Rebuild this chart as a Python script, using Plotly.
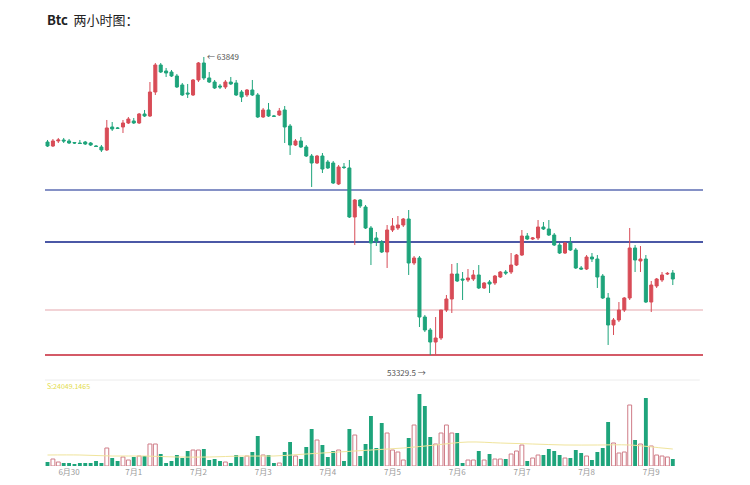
import pandas as pd
import plotly.graph_objects as go

# ---------------- data ----------------
start_time = "2024-06-29 16:00"
n_candles = 117

opens = [60848, 60707, 60884, 60919, 60884, 60831, 60813, 60848, 60813, 60707,
         60672, 60566, 61378, 61343, 61378, 61519, 61590, 61519, 61837, 61766,
         62613, 63567, 63355, 63319, 63178, 62861, 62578, 62508, 63037, 63637,
         63108, 62966, 62825, 62790, 62966, 62931, 62613, 62508, 62684, 62508,
         61731, 61978, 61766, 61802, 61978, 61413, 60742, 60884, 60672, 60354,
         60107, 60354, 60142, 60107, 59366, 59966, 59931, 58201, 58801, 58554,
         57813, 57460, 57318, 56965, 57742, 57813, 57918, 58130, 56577, 56754,
         54671, 54212, 53788, 53930, 54918, 55306, 56189, 56012, 55977, 56012,
         56154, 55695, 55906, 55871, 56083, 56259, 56259, 56506, 56859, 57530,
         57424, 57460, 57848, 57777, 57565, 57212, 56930, 57283, 57036, 56401,
         56365, 56789, 56718, 56118, 55342, 54389, 54565, 54918, 55342, 57107,
         56648, 56718, 55200, 55765, 55977, 56189, 56224]
highs = [60919, 60954, 60990, 60990, 60954, 60848, 60919, 60884, 60848, 60742,
         60742, 61625, 61554, 61378, 61625, 61731, 61696, 61872, 61978, 62966,
         63637, 63637, 63461, 63390, 63249, 62931, 62896, 63072, 63672, 63849,
         63319, 63037, 62896, 63037, 63143, 63037, 62684, 62719, 63037, 62578,
         62049, 62225, 61802, 62049, 62119, 61484, 60954, 61025, 60742, 60425,
         60390, 60460, 60213, 60178, 60036, 60107, 60213, 58836, 58836, 58624,
         57883, 57671, 57389, 57918, 58166, 58236, 58166, 58448, 56824, 56824,
         54742, 54283, 54671, 54036, 55448, 56542, 56577, 56259, 56365, 56330,
         56506, 55906, 55977, 56154, 56295, 56330, 56930, 56895, 57742, 57636,
         57495, 58095, 58024, 58095, 57636, 57283, 57318, 57495, 57107, 56471,
         56859, 56930, 56859, 56189, 55518, 54636, 55200, 55377, 57813, 57212,
         57177, 56859, 55942, 56048, 56259, 56259, 56330]
lows = [60672, 60672, 60813, 60813, 60778, 60778, 60778, 60742, 60707, 60672,
        60495, 60531, 61237, 61307, 61166, 61484, 61484, 61484, 61731, 61731,
        62508, 63284, 63143, 63143, 62755, 62472, 62402, 62472, 62966, 63037,
        62931, 62719, 62719, 62719, 62861, 62472, 62260, 62437, 62472, 61696,
        61696, 61731, 61731, 61766, 60813, 60390, 60707, 60637, 60319, 59260,
        60072, 59754, 59895, 59366, 59330, 59895, 58166, 57212, 58519, 57777,
        56506, 57177, 56930, 56401, 57671, 57742, 57848, 56154, 56506, 54318,
        54141, 53329.5, 53340, 53859, 54847, 54812, 55906, 55271, 55906, 55942,
        55659, 55659, 55518, 55800, 56048, 56154, 56189, 56471, 56824, 57389,
        57389, 57389, 57742, 57530, 57177, 56895, 56895, 57001, 56365, 56330,
        56330, 56612, 55695, 55306, 53683, 54036, 54494, 54847, 55271, 56259,
        56259, 55165, 54847, 55695, 55906, 56154, 55800]
closes = [60707, 60884, 60919, 60884, 60813, 60813, 60795, 60778, 60742, 60690,
          60566, 61343, 61307, 61330, 61519, 61660, 61519, 61837, 61766, 62613,
          63567, 63319, 63284, 63178, 62790, 62508, 62543, 63037, 63637, 63108,
          62966, 62755, 62790, 62966, 62896, 62508, 62437, 62684, 62508, 61731,
          61978, 61766, 61755, 61943, 61378, 60742, 60884, 60672, 60354, 60107,
          60354, 59895, 59931, 59401, 59966, 59948, 58201, 58801, 58589, 57813,
          57283, 57354, 56965, 57742, 57883, 57918, 58130, 56577, 56754, 54671,
          54212, 53788, 53930, 54918, 55306, 56189, 55942, 55977, 56048, 56154,
          55695, 55871, 55836, 56118, 56259, 56224, 56506, 56859, 57530, 57424,
          57460, 57848, 57777, 57565, 57212, 56930, 57283, 57036, 56401, 56365,
          56789, 56718, 56083, 55342, 54389, 54565, 54918, 55342, 57107, 56683,
          56718, 55200, 55800, 56012, 56154, 56210, 56012]
volumes = [4, 7, 4, 3, 3, 2, 3, 3, 3, 5,
           3, 18, 8, 5, 9, 6, 9, 10, 10, 22,
           22, 12, 3, 5, 11, 8, 15, 16, 16, 17,
           6, 7, 5, 4, 3, 11, 9, 10, 14, 30,
           11, 11, 3, 3, 14, 24, 10, 7, 19, 37,
           26, 21, 9, 15, 16, 5, 37, 31, 10, 22,
           50, 18, 43, 33, 16, 14, 6, 28, 41, 72,
           60, 29, 22, 33, 41, 33, 33, 3, 6, 6,
           15, 6, 12, 7, 7, 7, 12, 15, 21, 5,
           8, 11, 11, 17, 15, 11, 8, 8, 16, 13,
           10, 6, 14, 18, 44, 23, 13, 14, 61, 26,
           22, 68, 20, 11, 10, 9, 7]
# volume moving-average line, read at every 6th candle
ma_index = [0, 6, 12, 18, 24, 30, 36, 42, 48, 54, 60, 66, 72, 78, 84, 90, 96, 102, 108, 114, 116]
ma_values = [11, 11, 10, 10, 9, 9, 10, 10, 12, 14, 16, 18, 21, 24, 23, 22, 21, 21, 21, 18, 17]

tick_days = ["2024-06-30", "2024-07-01", "2024-07-02", "2024-07-03", "2024-07-04",
             "2024-07-05", "2024-07-06", "2024-07-07", "2024-07-08", "2024-07-09"]
tick_labels = ["6月30", "7月1", "7月2", "7月3", "7月4", "7月5", "7月6", "7月7", "7月8", "7月9"]

levels = [59154, 57318, 54918, 53330]
level_colors = ["#5d6db3", "#4b58a6", "#e6a7ae", "#d45a67"]
level_widths = [1.5, 2, 1.2, 2]

high_label = "← 63849"
low_label = "53329.5 →"
title_text = "<b>Btc</b>  两小时图："
vol_label = "S:24049.1465"

# ---------------- figure ----------------
RED = "#d84c57"
GREEN = "#1ea47b"
FONT = "Noto Sans CJK SC"

W, H = 742, 477      # page has an 8px body margin
OFF = 8


def py(y_px):
    """paper fraction for a screen pixel row"""
    return (H - (y_px - OFF)) / H


times = pd.date_range(start_time, periods=n_candles, freq="2h")

fig = go.Figure()
fig.add_trace(go.Candlestick(
    x=times, open=opens, high=highs, low=lows, close=closes,
    increasing=dict(line=dict(color=RED, width=1), fillcolor=RED),
    decreasing=dict(line=dict(color=GREEN, width=1), fillcolor=GREEN),
    whiskerwidth=0, xaxis="x", yaxis="y", showlegend=False, hoverinfo="skip"))

up_x, up_v, dn_x, dn_v = [], [], [], []
for t, o, c, v in zip(times, opens, closes, volumes):
    if c >= o:
        up_x.append(t); up_v.append(v)
    else:
        dn_x.append(t); dn_v.append(v)
bar_w = 2 * 3600 * 1000 * 0.72
fig.add_trace(go.Bar(x=dn_x, y=dn_v, width=bar_w, marker=dict(color=GREEN, line=dict(width=0)),
                     xaxis="x", yaxis="y2", showlegend=False))
fig.add_trace(go.Bar(x=up_x, y=up_v, width=bar_w,
                     marker=dict(color="white", line=dict(color="#cf7c87", width=1)),
                     xaxis="x", yaxis="y2", showlegend=False))
fig.add_trace(go.Scatter(x=[times[i] for i in ma_index], y=ma_values, mode="lines",
                         line=dict(color="#f0e49c", width=1, shape="spline"),
                         xaxis="x", yaxis="y2", showlegend=False))

shapes = []
for lv, col, w in zip(levels, level_colors, level_widths):
    shapes.append(dict(type="line", xref="paper", x0=0, x1=1, yref="y", y0=lv, y1=lv,
                       line=dict(color=col, width=w), layer="below"))
shapes.append(dict(type="line", xref="paper", x0=0, x1=0.995, yref="paper",
                   y0=py(380), y1=py(380), line=dict(color="#ececec", width=1)))

annotations = [
    dict(text=title_text, xref="paper", yref="paper", x=0, y=py(20),
         xanchor="left", yanchor="middle", showarrow=False,
         font=dict(family=FONT, size=13, color="#222222")),
    dict(text=high_label, x=times[29] + pd.Timedelta(minutes=30), y=highs[29], xref="x", yref="y",
         xanchor="left", yanchor="middle", showarrow=False,
         font=dict(family=FONT, size=8, color="#555555")),
    dict(text=low_label, x=times[71] - pd.Timedelta(minutes=40), y=min(lows), xref="x", yref="y",
         xanchor="right", yanchor="middle", yshift=-17, showarrow=False,
         font=dict(family=FONT, size=8, color="#555555")),
    dict(text=vol_label, xref="paper", yref="paper", x=0.0, y=py(386),
         xanchor="left", yanchor="middle", showarrow=False,
         font=dict(family=FONT, size=7, color="#e3dc4c")),
]

fig.update_layout(
    width=W, height=H,
    margin=dict(l=45 - OFF, r=W - (703 - OFF), t=0, b=0),
    paper_bgcolor="white", plot_bgcolor="white",
    boxgap=0.2,
    barmode="overlay",
    showlegend=False,
    shapes=shapes,
    annotations=annotations,
    xaxis=dict(anchor="y2", range=[pd.Timestamp("2024-06-29 15:04"), pd.Timestamp("2024-07-09 19:12")],
               tickvals=pd.to_datetime(tick_days), ticktext=tick_labels,
               showgrid=False, zeroline=False, showline=False, ticks="",
               tickfont=dict(family=FONT, size=8, color="#9a9a9a"),
               rangeslider=dict(visible=False), automargin=False),
    yaxis=dict(domain=[py(378), py(45)], range=[52518, 64272],
               visible=False, fixedrange=True),
    yaxis2=dict(domain=[py(466), py(380)], range=[0, 86], visible=False),
)

fig.write_html("out.html")
